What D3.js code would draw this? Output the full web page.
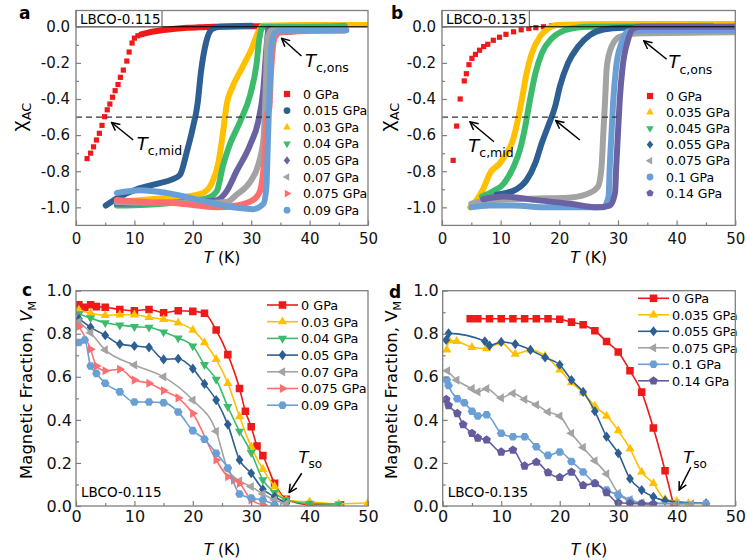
<!DOCTYPE html>
<html>
<head>
<meta charset="utf-8">
<title>LBCO chi AC and magnetic fraction</title>
<style>
  body {margin: 0; background: #fff}
  svg text {font-family: 'DejaVu Sans', 'Liberation Sans', Arial, sans-serif}
  .frame {fill: none; stroke: #7f7f7f; stroke-width: 1.3px}
  .trace {fill: none; stroke-width: 6px; stroke-linecap: round; stroke-linejoin: round}
  .vline {fill: none; stroke-width: 1.6px}
</style>
</head>
<body>
<script src="https://d3js.org/d3.v7.min.js"></script>
<script>

// ---------- panel a : LBCO-0.115, chi_AC vs T ----------
var pressA = ["0 GPa", "0.015 GPa", "0.03 GPa", "0.04 GPa", "0.05 GPa", "0.07 GPa", "0.075 GPa", "0.09 GPa"];
var chiA0 = [[1.9,-0.73],[2.5,-0.70],[3.0,-0.665],[3.5,-0.627],[4.0,-0.59],[4.45,-0.546],[4.9,-0.498],[5.35,-0.46],
  [5.8,-0.428],[6.25,-0.39],[6.7,-0.354],[7.2,-0.32],[7.6,-0.28],[8.1,-0.24],[8.7,-0.19],[9.1,-0.14],[9.6,-0.09],
  [10.0,-0.063],[10.6,-0.05],[11.2,-0.042]];
var chiA0tail = [[11.2,-0.042],[12,-0.035],[13,-0.028],[15,-0.018],[17,-0.011],[19,-0.006],[21,-0.003],[23.5,0],[33,0.003]];
var chiA015 = [[5.1,-0.99],[7,-0.95],[10.4,-0.9],[13.8,-0.87],[16.5,-0.845],[17.8,-0.82],[19,-0.69],[20,-0.56],[20.8,-0.43],
  [21.4,-0.25],[22.3,-0.083],[23.4,-0.01],[24.6,0.0],[30,0.005]];
var chiA03 = [[7,-0.97],[15,-0.95],[20,-0.935],[21.8,-0.92],[23.2,-0.87],[24.4,-0.75],[25.2,-0.58],[25.8,-0.43],[26.7,-0.34],
  [28.4,-0.23],[30.1,-0.12],[31.2,-0.03],[32,0.005],[40,0.01],[50,0.01]];
var chiA04 = [[7,-0.99],[12,-0.985],[18,-0.97],[22.4,-0.95],[24.1,-0.91],[25.2,-0.765],[26.3,-0.655],[28.1,-0.525],[29.8,-0.38],
  [30.9,-0.21],[31.4,-0.065],[32,0.0],[40,0.0],[46,0.005]];
var chiA05 = [[7,-0.98],[15,-0.975],[20,-0.97],[24.1,-0.96],[25.8,-0.91],[27.5,-0.8],[29.8,-0.655],[31.2,-0.525],[32.1,-0.34],
  [32.6,-0.12],[33,-0.01],[35,-0.03],[40,-0.02],[46,-0.02]];
var chiA07 = [[7,-0.97],[15,-0.975],[22,-0.975],[25.8,-0.97],[27.5,-0.93],[29.8,-0.86],[31.2,-0.765],[32.1,-0.62],[32.5,-0.34],
  [32.8,-0.06],[33.5,-0.02],[46,-0.02]];
var chiA075 = [[7,-0.96],[12,-0.97],[18,-0.98],[24,-1.0],[27.5,-0.99],[30.3,-0.96],[31.5,-0.91],[32.3,-0.71],[32.7,-0.49],
  [33.1,-0.45],[33.4,-0.25],[34,-0.065],[35,-0.03],[46,-0.02]];
var chiA09 = [[7,-0.92],[11,-0.905],[15.5,-0.92],[21.2,-0.96],[26.9,-1.0],[30.3,-1.01],[32.1,-0.98],[32.6,-0.885],[32.9,-0.59],
  [33.2,-0.31],[33.5,-0.1],[34.1,-0.03],[36,-0.02],[46.3,-0.02]];

// ---------- panel b : LBCO-0.135, chi_AC vs T ----------
var pressB = ["0 GPa", "0.035 GPa", "0.045 GPa", "0.055 GPa", "0.075 GPa", "0.1 GPa", "0.14 GPa"];
var chiB0 = [[1.9,-0.74],[2.5,-0.55],[3.1,-0.40],[3.8,-0.30],[4.15,-0.26],[4.6,-0.21],[5.1,-0.175],[5.7,-0.153],[6.4,-0.13],
  [7.1,-0.11],[7.8,-0.097],[8.75,-0.075],[9.8,-0.058],[10.9,-0.042],[12.2,-0.028],[13.5,-0.017],[14.8,-0.01],[16,-0.005],
  [17.3,0.0],[18.7,0.005],[20,0.008]];
var chiB035 = [[4.8,-1.0],[5.9,-0.96],[7,-0.9],[8.2,-0.81],[9.9,-0.755],[11,-0.7],[11.9,-0.645],[12.7,-0.55],[13.6,-0.405],
  [14.4,-0.26],[15.3,-0.147],[16.7,-0.055],[18.1,-0.01],[19.6,0.01],[30,0.015],[50,0.015]];
var chiB045 = [[6.8,-0.94],[8.75,-0.91],[10.5,-0.87],[12.2,-0.775],[13.3,-0.68],[14.2,-0.55],[15,-0.405],[15.9,-0.26],[17,-0.147],
  [18.7,-0.065],[20.7,-0.022],[23,-0.005],[25,0],[46,0.005]];
var chiB055 = [[9.3,-0.93],[11,-0.92],[12.7,-0.9],[14.4,-0.85],[15.9,-0.755],[17,-0.645],[18.1,-0.55],[19.3,-0.44],[20.1,-0.33],
  [21.5,-0.2],[23.2,-0.11],[25.2,-0.046],[27.5,-0.015],[30.9,-0.005],[50,0.0]];
var chiB075 = [[5,-0.98],[8,-0.96],[12,-0.955],[18,-0.95],[22,-0.945],[25.2,-0.92],[26.6,-0.885],[27.2,-0.775],[27.5,-0.59],
  [27.8,-0.41],[28.1,-0.22],[28.9,-0.11],[30.3,-0.055],[33.2,-0.037],[50,-0.03]];
var chiB10 = [[5,-1.0],[8,-0.99],[12,-0.99],[18,-1.0],[24,-1.0],[27.5,-1.0],[28.4,-0.94],[28.6,-0.775],[28.9,-0.59],[29.2,-0.405],
  [29.7,-0.22],[30.6,-0.09],[31.7,-0.026],[35,-0.02],[50,-0.02]];
var chiB14 = [[7,-0.955],[10.5,-0.94],[16.1,-0.96],[21.8,-0.98],[26.4,-1.0],[28.6,-0.99],[29.5,-0.92],[29.7,-0.775],[30,-0.59],
  [30.3,-0.405],[30.8,-0.22],[31.7,-0.074],[32.6,-0.01],[33.8,0],[50,0]];

// ---------- panel c : LBCO-0.115, magnetic fraction ----------
var pressC = ["0 GPa", "0.03 GPa", "0.04 GPa", "0.05 GPa", "0.07 GPa", "0.075 GPa", "0.09 GPa"];
var vmC0 = [[0.5,0.935],[1.5,0.923],[2.5,0.935],[3.5,0.926],[5,0.923],[7.5,0.913],[10,0.907],[12.5,0.913],[15,0.898],[17.5,0.907],
  [20,0.904],[22,0.895],[24,0.817],[26,0.703],[28,0.546],[29,0.44],[30,0.368],[31,0.279],[32,0.234],[34,0.105],[36,0.031],
  [40,0.006],[45.3,0.006]];
var vmC03 = [[0.5,0.91],[2.5,0.895],[5,0.886],[7.5,0.888],[10,0.888],[12.5,0.876],[15,0.867],[17.5,0.851],[20,0.817],[22,0.759],
  [24,0.681],[26,0.57],[28,0.415],[30,0.275],[32,0.17],[34,0.09],[36,0.028],[40,0.019],[45,0.01],[50,0.015]];
var vmC04 = [[0.5,0.892],[2.5,0.873],[5,0.851],[7.5,0.84],[10,0.833],[12.5,0.83],[15,0.808],[17.5,0.78],[20,0.743],[22,0.656],
  [24,0.588],[26,0.461],[28,0.347],[30,0.248],[32,0.121],[34,0.062],[36,0.028],[40,0.012],[45,0.009]];
var vmC05 = [[0.5,0.87],[2.5,0.83],[5,0.793],[7.5,0.752],[10,0.743],[12.5,0.737],[15,0.681],[17.5,0.684],[20,0.638],[22,0.567],
  [24,0.492],[26,0.378],[28,0.214],[30,0.152],[32,0.078],[34,0.043],[36,0.012]];
var vmC07 = [[0.5,0.856],[2.5,0.805],[5,0.725],[10,0.655],[15,0.6],[20,0.492],[24,0.347],[26,0.17],[28,0.117],[30,0.09],
  [32,0.056],[34,0.028],[36,0.012]];
var vmC075 = [[0.5,0.834],[2.5,0.728],[3.5,0.65],[5,0.628],[7.5,0.635],[10,0.585],[12.5,0.57],[15,0.536],[17.5,0.502],[20,0.43],
  [24,0.214],[26,0.136],[27,0.12],[28,0.105],[30,0.028],[32,0.006]];
var vmC09 = [[0.5,0.759],[1.5,0.771],[2.5,0.65],[3.5,0.616],[5,0.57],[7.5,0.53],[10,0.483],[12.5,0.483],[15,0.48],[17.5,0.437],
  [20,0.35],[22,0.31],[24,0.245],[26,0.176],[28,0.056],[30,0.037],[32,0.028],[34,0.006]];

// ---------- panel d : LBCO-0.135, magnetic fraction ----------
var pressD = ["0 GPa", "0.035 GPa", "0.055 GPa", "0.075 GPa", "0.1 GPa", "0.14 GPa"];
var vmD0 = [[4.7,0.87],[6,0.87],[8,0.87],[10,0.87],[12,0.87],[14,0.87],[16,0.87],[18,0.87],[20,0.867],[22,0.854],[24,0.842],
  [26,0.814],[28,0.764],[30,0.715],[32,0.628],[34,0.529],[36,0.362],[38,0.164],[39.5,0.0]];
var vmD035 = [[0.7,0.725],[1.1,0.768],[2.4,0.765],[5,0.737],[7.5,0.731],[10,0.759],[12.4,0.706],[15,0.725],[17.5,0.697],[20,0.632],
  [22,0.573],[24,0.526],[26,0.464],[28,0.418],[30,0.35],[32,0.266],[34,0.158],[36,0.105],[38,0.031],[40,0.022],[42,0.012],[45,0.012]];
var vmD055 = [[0.6,0.771],[1.0,0.802],[7.2,0.765],[8,0.745],[10,0.762],[12.4,0.752],[15,0.725],[17.5,0.69],[20,0.656],[22,0.585],
  [24,0.53],[26,0.44],[28,0.322],[30,0.245],[32,0.127],[34,0.074],[36,0.043],[38,0.025],[45,0.012]];
var vmD075 = [[0.8,0.628],[2.4,0.585],[5,0.545],[6,0.53],[7.5,0.545],[10,0.502],[12,0.523],[14,0.495],[16,0.47],[18,0.437],
  [20,0.418],[22,0.338],[24,0.272],[26,0.21],[28,0.149],[30,0.06],[32,0.03],[34,0.015],[40,0.01],[42.5,0.01]];
var vmD10 = [[0.7,0.585],[1.0,0.56],[2.5,0.498],[3.7,0.48],[5,0.44],[6,0.418],[7.5,0.424],[10,0.338],[12,0.322],[14,0.322],
  [16,0.275],[18,0.235],[20,0.251],[22,0.207],[24,0.158],[26,0.105],[28,0.074],[30,0.05],[32,0.025],[34,0.012],[45,0.012]];
var vmD14 = [[0.6,0.495],[1.0,0.467],[2.5,0.43],[3.5,0.378],[5,0.338],[6,0.316],[7.5,0.307],[10,0.251],[12,0.26],[14,0.186],
  [16,0.204],[18,0.155],[20,0.133],[22,0.158],[24,0.096],[26,0.105],[28,0.062],[30,0.015],[32,0.012],[34,0.01],[36,0.01]];

var tTicks = [0, 10, 20, 30, 40, 50];
var tMinor = [5, 15, 25, 35, 45];
var chiTicks = [0, -0.2, -0.4, -0.6, -0.8, -1.0];
var chiMinor = [-0.1, -0.3, -0.5, -0.7, -0.9];
var vmTicks = [0, 0.2, 0.4, 0.6, 0.8, 1.0];
var vmMinor = [0.1, 0.3, 0.5, 0.7, 0.9];

// colours
var red = "#ee1a1a", navy = "#2d5f93", yellow = "#ffc000", green = "#3cbb6c", purple = "#6a63a3",
    gray = "#a3a3a3", salmon = "#ff6e6e", sky = "#6a9fd6", purpleD = "#625c9e";

var svg = d3.select("body").append("svg").attr("width", 747).attr("height", 560);
var defs = svg.append("defs");
defs.append("marker").attr("id", "arr").attr("viewBox", "0 0 10 10").attr("refX", 9).attr("refY", 5)
  .attr("markerWidth", 10).attr("markerHeight", 10).attr("markerUnits", "userSpaceOnUse").attr("orient", "auto")
  .append("path").attr("d", "M1,1 L9,5 L1,9").attr("fill", "none").attr("stroke", "#000").attr("stroke-width", 1.5);

// marker shapes
function sym(type, r) {
  function poly(n, rot, rr) {
    var pts = [];
    for (var i = 0; i < n; i++) {
      var a = rot + 2 * Math.PI * i / n;
      pts.push((rr * Math.cos(a)).toFixed(2) + "," + (rr * Math.sin(a)).toFixed(2));
    }
    return "M" + pts.join("L") + "Z";
  }
  if (type == "square") { var s = r * 0.82; return "M" + (-s) + "," + (-s) + "H" + s + "V" + s + "H" + (-s) + "Z"; }
  if (type == "circle") return d3.symbol(d3.symbolCircle, Math.PI * r * r * 0.8)();
  if (type == "up") return poly(3, -Math.PI / 2, r * 1.15);
  if (type == "down") return poly(3, Math.PI / 2, r * 1.15);
  if (type == "left") return poly(3, Math.PI, r * 1.15);
  if (type == "right") return poly(3, 0, r * 1.15);
  if (type == "diamond") return "M0," + (-r * 1.1) + "L" + (r * 0.85) + ",0L0," + (r * 1.1) + "L" + (-r * 0.85) + ",0Z";
  if (type == "hex") return poly(6, 0, r * 0.95);
  if (type == "pent") return poly(5, -Math.PI / 2, r * 1.0);
}

function fmt1(d) { return (Math.abs(d) < 1e-9 ? 0 : d).toFixed(1); }

function axes(g, x, y, o) {
  var x0 = x.range()[0], x1 = x.range()[1], yb = y.range()[0], yt = y.range()[1];
  var xa = g.append("g").attr("transform", "translate(0," + yb + ")")
    .call(d3.axisBottom(x).tickValues(tTicks).tickSize(-5).tickPadding(o.xp).tickFormat(d3.format("d")));
  var xm = g.append("g").attr("transform", "translate(0," + yb + ")")
    .call(d3.axisBottom(x).tickValues(tMinor).tickSize(-3).tickFormat(""));
  var ya = g.append("g").attr("transform", "translate(" + x0 + ",0)")
    .call(d3.axisLeft(y).tickValues(o.yt).tickSize(-5).tickPadding(o.yp).tickFormat(fmt1));
  var ym = g.append("g").attr("transform", "translate(" + x0 + ",0)")
    .call(d3.axisLeft(y).tickValues(o.ym).tickSize(-3).tickFormat(""));
  [xa, xm, ya, ym].forEach(function (a) {
    a.select(".domain").remove();
    a.selectAll("line").attr("stroke", "#7f7f7f").attr("stroke-width", 1.2);
    a.selectAll("text").attr("fill", "#111").style("font-size", o.fs + "px");
  });
  g.append("rect").attr("class", "frame").attr("x", x0).attr("y", yt).attr("width", x1 - x0).attr("height", yb - yt);
}

function clipFor(id, x, y) {
  defs.append("clipPath").attr("id", id).append("rect")
    .attr("x", x.range()[0]).attr("y", y.range()[1])
    .attr("width", x.range()[1] - x.range()[0]).attr("height", y.range()[0] - y.range()[1]);
  return "url(#" + id + ")";
}

function tLabel(g, x, y, sub, fs, sfs, it) {
  var t = g.append("text").attr("x", x).attr("y", y).style("font-size", fs + "px");
  t.append("tspan").style("font-style", it === false ? "normal" : "italic").text("T");
  t.append("tspan").attr("dy", fs * 0.3).style("font-size", sfs + "px").text(sub);
}

function arrow(g, x, y, p, q) {
  g.append("line").attr("x1", x(p[0])).attr("y1", y(p[1])).attr("x2", x(q[0])).attr("y2", y(q[1]))
    .attr("stroke", "#000").attr("stroke-width", 1.5).attr("marker-end", "url(#arr)");
}

// ---------- chi_AC panels (a, b) ----------
function chiPanel(o) {
  var g = svg.append("g");
  var x = d3.scaleLinear().domain([0, 50]).range(o.xr);
  var y = d3.scaleLinear().domain([-1.1, 0.09]).range([225.4, 10.5]);
  var line = d3.line().x(function (d) { return x(d[0]); }).y(function (d) { return y(d[1]); }).curve(d3.curveMonotoneX);
  var plot = g.append("g").attr("clip-path", clipFor(o.id, x, y));

  if (o.redTail) plot.append("path").attr("class", "trace").attr("stroke", red).attr("stroke-width", 5)
    .attr("stroke-linecap", "butt").attr("d", line(o.redTail));
  plot.selectAll("rect.sq").data(o.red).enter().append("rect").attr("class", "sq")
    .attr("x", function (d) { return x(d[0]) - 2.6; }).attr("y", function (d) { return y(d[1]) - 2.6; })
    .attr("width", 5.2).attr("height", 5.2).attr("fill", red);
  o.traces.forEach(function (s) {
    plot.append("path").attr("class", "trace").attr("stroke", s.c).attr("d", line(s.v));
  });

  // zero line and half-transition line
  g.append("line").attr("x1", x(0)).attr("x2", x(50)).attr("y1", y(0)).attr("y2", y(0)).attr("stroke", "#000").attr("stroke-width", 1.2);
  g.append("line").attr("x1", x(0)).attr("x2", x(o.dashEnd)).attr("y1", y(-0.5)).attr("y2", y(-0.5))
    .attr("stroke", "#333").attr("stroke-width", 1.3).attr("stroke-dasharray", "6,4");

  // sample box
  g.append("rect").attr("x", x(0)).attr("y", y.range()[1]).attr("width", o.boxW).attr("height", y(0) - y.range()[1])
    .attr("fill", "#fff").attr("stroke", "#555").attr("stroke-width", 1);
  g.append("text").attr("x", x(0) + 4).attr("y", 23.5).style("font-size", "13.5px").text(o.sample);

  // legend
  o.legend.forEach(function (s, i) {
    var ly = o.ly0 + i * o.ldy;
    g.append("path").attr("d", sym(s.m, 3.8)).attr("transform", "translate(" + o.lx + "," + ly + ")").attr("fill", s.c);
    g.append("text").attr("x", o.lx + 16).attr("y", ly + 4.6).style("font-size", "12.5px").text(s.name);
  });

  axes(g, x, y, {yt: chiTicks, ym: chiMinor, xp: 8, yp: 6, fs: 15});

  // titles
  g.append("text").attr("transform", "translate(" + o.ylx + ",117) rotate(-90)").attr("text-anchor", "middle")
    .call(function (t) {
      t.append("tspan").style("font-size", "21px").style("font-family", "'Liberation Sans', Arial, sans-serif").text("χ");
      t.append("tspan").attr("dy", 5).style("font-size", "13px").text("AC");
    });
  var xt = g.append("text").attr("x", (o.xr[0] + o.xr[1]) / 2).attr("y", 263).attr("text-anchor", "middle").style("font-size", "15.5px");
  xt.append("tspan").style("font-style", "italic").text("T");
  xt.append("tspan").text(" (K)");
  g.append("text").attr("x", o.letterX).attr("y", 19).style("font-size", "17px").style("font-weight", "bold").text(o.letter);

  o.notes(g, x, y);
}

chiPanel({
  id: "ca", xr: [76, 368], letter: "a", letterX: 19, ylx: 26, sample: "LBCO-0.115", boxW: 86, dashEnd: 33.2,
  red: chiA0, redTail: chiA0tail,
  traces: [{v: chiA015, c: navy}, {v: chiA03, c: yellow}, {v: chiA04, c: green}, {v: chiA05, c: purple},
           {v: chiA07, c: gray}, {v: chiA075, c: salmon}, {v: chiA09, c: sky}],
  legend: [{m: "square", c: red}, {m: "circle", c: navy}, {m: "up", c: yellow}, {m: "down", c: green},
           {m: "diamond", c: purple}, {m: "left", c: gray}, {m: "right", c: salmon}, {m: "circle", c: sky}]
           .map(function (s, i) { s.name = pressA[i]; return s; }),
  lx: 287, ly0: 94, ldy: 16.6,
  notes: function (g, x, y) {
    arrow(g, x, y, [9.8, -0.627], [6.1, -0.53]);
    tLabel(g, x(10.4), y(-0.683), "c,mid", 18, 12.5);
    arrow(g, x, y, [38.6, -0.162], [35.2, -0.064]);
    tLabel(g, x(39.2), y(-0.221), "c,ons", 18, 12.5);
  }
});

chiPanel({
  id: "cb", xr: [442, 735.3], letter: "b", letterX: 391, ylx: 394, sample: "LBCO-0.135", boxW: 87.3, dashEnd: 29.8,
  red: chiB0, redTail: null,
  traces: [{v: chiB035, c: yellow}, {v: chiB045, c: green}, {v: chiB055, c: navy}, {v: chiB075, c: gray},
           {v: chiB10, c: sky}, {v: chiB14, c: purple}],
  legend: [{m: "square", c: red}, {m: "up", c: yellow}, {m: "down", c: green}, {m: "diamond", c: navy},
           {m: "left", c: gray}, {m: "circle", c: sky}, {m: "pent", c: purple}]
           .map(function (s, i) { s.name = pressB[i]; return s; }),
  lx: 650, ly0: 96, ldy: 16.2,
  notes: function (g, x, y) {
    arrow(g, x, y, [8.86, -0.637], [4.77, -0.526]);
    tLabel(g, x(4.48), y(-0.692), "c,mid", 18, 12.5);
    arrow(g, x, y, [23.5, -0.627], [19.4, -0.52]);
    arrow(g, x, y, [38.3, -0.18], [34.4, -0.078]);
    tLabel(g, x(38.6), y(-0.23), "c,ons", 18, 12.5);
  }
});

// ---------- magnetic fraction panels (c, d) ----------
function vmPanel(o) {
  var g = svg.append("g");
  var x = d3.scaleLinear().domain([0, 50]).range(o.xr);
  var y = d3.scaleLinear().domain([0, 1]).range([506, 290.7]);
  var line = d3.line().x(function (d) { return x(d[0]); }).y(function (d) { return y(d[1]); }).curve(d3.curveMonotoneX);
  var plot = g.append("g").attr("clip-path", clipFor(o.id, x, y));

  o.series.forEach(function (s) {
    plot.append("path").attr("class", "vline").attr("stroke", s.c).attr("d", line(s.v));
    plot.selectAll(null).data(s.v).enter().append("path")
      .attr("d", sym(s.m, 4.6))
      .attr("transform", function (d) { return "translate(" + x(d[0]) + "," + y(d[1]) + ")"; })
      .attr("fill", s.c);
  });

  // legend
  o.series.forEach(function (s, i) {
    var ly = o.ly0 + i * o.ldy;
    g.append("line").attr("x1", o.lx1).attr("x2", o.lx2).attr("y1", ly).attr("y2", ly).attr("stroke", s.c).attr("stroke-width", 1.6);
    g.append("path").attr("d", sym(s.m, 4.6)).attr("transform", "translate(" + (o.lx1 + o.lx2) / 2 + "," + ly + ")").attr("fill", s.c);
    g.append("text").attr("x", o.lx2 + 3).attr("y", ly + 4.8).style("font-size", "12.8px").text(s.name);
  });

  g.append("text").attr("x", x(0) + 5).attr("y", 497).style("font-size", "13.5px").text(o.sample);

  axes(g, x, y, {yt: vmTicks, ym: vmMinor, xp: 5, yp: 4, fs: 16});

  var yl = g.append("text").attr("transform", "translate(" + o.ylx + ",390) rotate(-90)").attr("text-anchor", "middle")
    .style("font-size", "16.5px");
  yl.append("tspan").text("Magnetic Fraction, ");
  yl.append("tspan").style("font-style", o.vItalic ? "italic" : "normal").text("V");
  yl.append("tspan").attr("dy", 4).style("font-size", "11px").text("M");
  var xt = g.append("text").attr("x", (o.xr[0] + o.xr[1]) / 2).attr("y", 555).attr("text-anchor", "middle").style("font-size", "15.5px");
  xt.append("tspan").style("font-style", "italic").text("T");
  xt.append("tspan").text(" (K)");
  g.append("text").attr("x", o.letterX).attr("y", o.letterY).style("font-size", "17px").style("font-weight", "bold").text(o.letter);

  arrow(g, x, y, o.arrowFrom, o.arrowTo);
  tLabel(g, x(o.tso[0]), y(o.tso[1]), "so", 16.5, 12);
}

vmPanel({
  id: "cc", xr: [76, 368], letter: "c", letterX: 22, letterY: 296, ylx: 32, sample: "LBCO-0.115", vItalic: true,
  series: [{v: vmC0, c: red, m: "square"}, {v: vmC03, c: yellow, m: "up"}, {v: vmC04, c: green, m: "down"},
           {v: vmC05, c: navy, m: "diamond"}, {v: vmC07, c: gray, m: "left"}, {v: vmC075, c: salmon, m: "right"},
           {v: vmC09, c: sky, m: "hex"}].map(function (s, i) { s.name = pressC[i]; return s; }),
  lx1: 267, lx2: 298, ly0: 305, ldy: 16.7,
  arrowFrom: [38.65, 0.152], arrowTo: [36.5, 0.062], tso: [38.1, 0.198]
});

vmPanel({
  id: "cd", xr: [442.7, 735.3], letter: "d", letterX: 389, letterY: 298, ylx: 397, sample: "LBCO-0.135", vItalic: false,
  series: [{v: vmD0, c: red, m: "square"}, {v: vmD035, c: yellow, m: "up"}, {v: vmD055, c: navy, m: "diamond"},
           {v: vmD075, c: gray, m: "left"}, {v: vmD10, c: sky, m: "hex"}, {v: vmD14, c: purpleD, m: "pent"}]
           .map(function (s, i) { s.name = pressD[i]; return s; }),
  lx1: 638, lx2: 669, ly0: 298.3, ldy: 16.5,
  arrowFrom: [42.4, 0.18], arrowTo: [40.4, 0.074], tso: [41.1, 0.198]
});

</script>
</body>
</html>
